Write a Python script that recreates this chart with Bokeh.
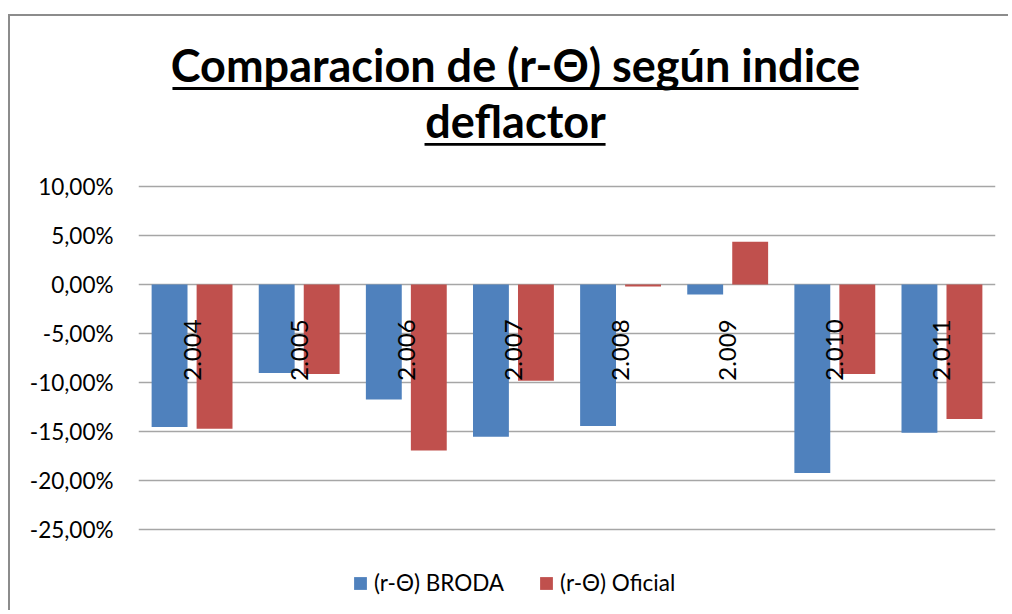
from bokeh.plotting import figure
from bokeh.models import (ColumnDataSource, Range1d, FixedTicker, Legend, LegendItem,
                          Label, BoxAnnotation)
from bokeh.core.properties import value
from bokeh.embed import file_html
from bokeh.resources import INLINE
import math

# ---- data ----
years = ["2.004", "2.005", "2.006", "2.007", "2.008", "2.009", "2.010", "2.011"]
broda = [-14.5, -9.0, -11.7, -15.5, -14.4, -1.0, -19.2, -15.1]      # (r-Θ) BRODA, %
oficial = [-14.7, -9.1, -16.9, -9.8, -0.2, 4.35, -9.1, -13.7]       # (r-Θ) Oficial, %
tick_values = [10, 5, 0, -5, -10, -15, -20, -25]
tick_labels = ["10,00%", "5,00%", "0,00%", "-5,00%", "-10,00%", "-15,00%", "-20,00%", "-25,00%"]
series_names = ["(r-Θ) BRODA", "(r-Θ) Oficial"]
title_lines = ["Comparacion de (r-Θ) según indice", "deflactor"]

BLUE = "#4F81BD"
RED = "#C0504D"
FONT = "Lato"

idx = list(range(len(years)))
src = ColumnDataSource(dict(
    x=idx,
    xb=[i - 0.21 for i in idx],
    xr=[i + 0.21 for i in idx],
    broda=broda,
    oficial=oficial,
    label=years,
    ly=[-9.8] * len(years),
))

p = figure(width=1000, height=596, output_backend="svg", toolbar_location=None,
           x_range=Range1d(-0.5, len(years) - 0.5), y_range=Range1d(-33.0, 26.9),
           min_border_left=128, min_border_right=15, min_border_top=4, min_border_bottom=4)
p.styles = {"margin-top": "14px", "margin-left": "8px",
            "border-top": "2px solid #8c8c8c", "border-left": "2px solid #8c8c8c"}
p.outline_line_color = None
p.background_fill_color = "white"
p.border_fill_color = "white"

p.xaxis.visible = False
p.xgrid.visible = False
p.ygrid.grid_line_color = "#a6a6a6"
p.ygrid.grid_line_width = 1.5
p.yaxis.ticker = FixedTicker(ticks=tick_values)
p.yaxis.major_label_overrides = {v: l for v, l in zip(tick_values, tick_labels)}
p.yaxis.axis_line_color = None
p.yaxis.major_tick_line_color = None
p.yaxis.minor_tick_line_color = None
p.yaxis.major_label_text_font = FONT
p.yaxis.major_label_text_font_size = "22.5px"
p.yaxis.major_label_text_color = "#000000"
p.yaxis.major_label_standoff = 19

rb = p.vbar(x="xb", top="broda", bottom=0, width=0.335, source=src,
            fill_color=BLUE, line_color=None)
rr = p.vbar(x="xr", top="oficial", bottom=0, width=0.335, source=src,
            fill_color=RED, line_color=None)

p.text(x="x", y="ly", text="label", source=src, angle=math.pi / 2,
       text_align="left", text_baseline="middle", text_font=value(FONT),
       text_font_size="24px", text_color="#000000")

# title (two centred lines, bold, underlined)
tx = 3.02
for line, yb, ul, ur in [(title_lines[0], 20.55, -0.183, 6.221),
                         (title_lines[1], 14.85, 2.17, 3.86)]:
    p.add_layout(Label(x=tx, y=yb + 1.8, text=line, text_align="center",
                       text_baseline="alphabetic",
                       text_font=FONT, text_font_size="45px", text_font_style="bold",
                       text_color="#000000"))
    p.add_layout(BoxAnnotation(left=ul, right=ur, top=yb - 0.42, bottom=yb - 0.72,
                               fill_color="#000000", fill_alpha=1.0, line_color=None))

legend = Legend(items=[LegendItem(label=series_names[0], renderers=[rb]),
                       LegendItem(label=series_names[1], renderers=[rr])],
                orientation="horizontal", location=(214, 12),
                glyph_width=16, glyph_height=16, label_standoff=6, spacing=34,
                padding=0, margin=0, border_line_color=None, background_fill_alpha=0,
                label_text_font=FONT, label_text_font_size="22.5px", label_text_color="#000000")
p.add_layout(legend, "center")

open("out.html", "w").write(file_html(p, INLINE))
